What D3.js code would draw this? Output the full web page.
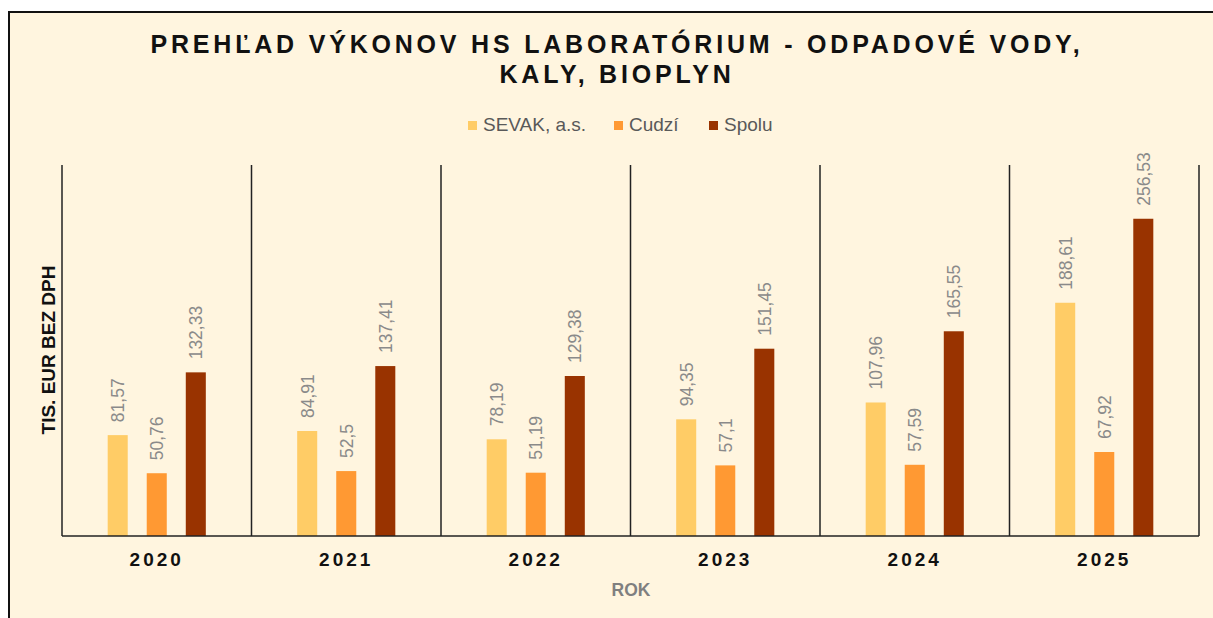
<!DOCTYPE html>
<html>
<head>
<meta charset="utf-8">
<script src="https://cdn.jsdelivr.net/npm/d3@7"></script>
<style>
  body { margin:0; background:#fff; }
  svg { display:block; }
</style>
</head>
<body>
<svg id="chart" width="1213" height="618"></svg>
<script>
// data
var years = ["2020","2021","2022","2023","2024","2025"]
var seriesNames = ["SEVAK, a.s.","Cudzí","Spolu"]
var sevak = [81.57, 84.91, 78.19, 94.35, 107.96, 188.61]
var cudzi = [50.76, 52.5, 51.19, 57.1, 57.59, 67.92]
var spolu = [132.33, 137.41, 129.38, 151.45, 165.55, 256.53]
var colors = ["#FFCC66","#FF9933","#993300"]

var FONT = "Liberation Sans, Arial, sans-serif"
var svg = d3.select("#chart")

// pozadie a ramcek
svg.append("rect").attr("x",9).attr("y",12).attr("width",1220).attr("height",620)
   .attr("fill","#FFF5DF").attr("stroke","#111").attr("stroke-width",2)

var margin = {left:62, right:1199, top:165, bottom:536}

var x = d3.scaleBand().domain(years).range([margin.left, margin.right]).padding(0)
var xs = d3.scaleBand().domain(seriesNames).range([0, x.bandwidth()]).paddingInner(0.487).paddingOuter(1.17)
var y = d3.scaleLinear().domain([0,300]).range([margin.bottom, margin.top])

// titulok
var title = svg.append("text").attr("text-anchor","middle")
   .attr("font-family",FONT).attr("font-weight","bold")
   .attr("font-size",25).attr("letter-spacing",3.8).attr("fill","#111")
title.append("tspan").attr("x",617).attr("y",53).text("PREHĽAD VÝKONOV HS LABORATÓRIUM - ODPADOVÉ VODY,")
title.append("tspan").attr("x",617).attr("y",83).text("KALY, BIOPLYN")

// legenda
var legX = [468, 614, 709]
var leg = svg.append("g")
seriesNames.forEach(function(n,i){
    leg.append("rect").attr("x",legX[i]).attr("y",121).attr("width",9).attr("height",9).attr("fill",colors[i])
    leg.append("text").attr("x",legX[i]+15).attr("y",131)
       .attr("font-family",FONT).attr("font-size",19)
       .attr("fill","#595959").text(n)
})

// oddelovace kategorii
var edges = years.map(function(d){ return x(d) }).concat([margin.right])
svg.append("g").selectAll("line").data(edges).enter().append("line")
   .attr("x1",function(d){return d}).attr("x2",function(d){return d})
   .attr("y1",margin.top).attr("y2",margin.bottom)
   .attr("stroke","#222").attr("stroke-width",1.5)

// stlpce
var rows = years.map(function(yr,i){ return {year:yr, vals:[sevak[i],cudzi[i],spolu[i]]} })
var g = svg.append("g").selectAll("g").data(rows).enter().append("g")
   .attr("transform",function(d){ return "translate("+x(d.year)+",0)" })

var bars = g.selectAll("g.bar").data(function(d){
        return d.vals.map(function(v,k){ return {name:seriesNames[k], v:v, k:k} })
    }).enter().append("g").attr("class","bar")

bars.append("rect")
   .attr("x",function(d){ return xs(d.name) })
   .attr("width",xs.bandwidth())
   .attr("y",function(d){ return y(d.v) })
   .attr("height",function(d){ return margin.bottom - y(d.v) })
   .attr("fill",function(d){ return colors[d.k] })

bars.append("text")
   .attr("transform",function(d){
       return "translate("+(xs(d.name)+xs.bandwidth()/2+6.5)+","+(y(d.v)-13)+") rotate(-90)"
   })
   .attr("font-family",FONT).attr("font-size",17.5)
   .attr("fill","#8a8a8a")
   .text(function(d){ return String(d.v).replace(".",",") })

// os x
svg.append("line").attr("x1",margin.left).attr("x2",margin.right)
   .attr("y1",margin.bottom).attr("y2",margin.bottom).attr("stroke","#222").attr("stroke-width",1.5)

svg.append("g").selectAll("text").data(years).enter().append("text")
   .attr("x",function(d){ return x(d)+x.bandwidth()/2 }).attr("y",566)
   .attr("text-anchor","middle")
   .attr("font-family",FONT).attr("font-weight","bold")
   .attr("font-size",19).attr("letter-spacing",3).attr("fill","#111")
   .text(function(d){ return d })

svg.append("text").attr("x",631).attr("y",596).attr("text-anchor","middle")
   .attr("font-family",FONT).attr("font-weight","bold")
   .attr("font-size",17.5).attr("fill","#7f7f7f").text("ROK")

// os y titulok
svg.append("text").attr("transform","translate(55,350) rotate(-90)").attr("text-anchor","middle")
   .attr("font-family",FONT).attr("font-weight","bold")
   .attr("font-size",19).attr("fill","#111").text("TIS. EUR BEZ DPH")
</script>
</body>
</html>
